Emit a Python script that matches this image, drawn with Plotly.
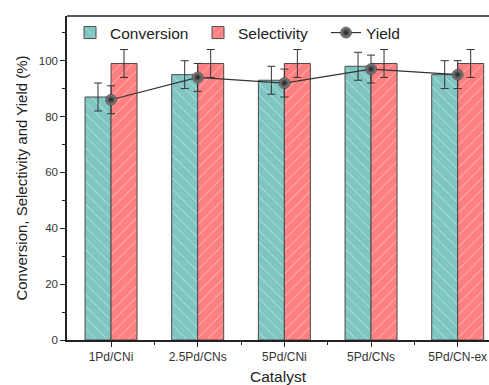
import plotly.graph_objects as go

categories = ["1Pd/CNi", "2.5Pd/CNs", "5Pd/CNi", "5Pd/CNs", "5Pd/CN-ex"]
conversion = [87, 95, 93, 98, 95]
conversion_err = [5, 5, 5, 5, 5]
selectivity = [99, 99, 99, 99, 99]
selectivity_err = [5, 5, 5, 5, 5]
yield_vals = [86, 94, 92, 97, 95]
yield_err = [5, 5, 5, 5, 5]

xpos = list(range(len(categories)))
FONT = "Liberation Sans, Arial, sans-serif"

fig = go.Figure()
fig.add_trace(go.Bar(
    x=xpos, y=conversion, name="Conversion",
    marker=dict(color="#7fc5c1", line=dict(color="#4a4a4a", width=1),
                pattern=dict(shape="\\", fgcolor="white", fgopacity=0.6, size=8, solidity=0.1)),
    error_y=dict(type="data", array=conversion_err, color="#333333", thickness=1, width=4),
))
fig.add_trace(go.Bar(
    x=xpos, y=selectivity, name="Selectivity",
    marker=dict(color="#ff8080", line=dict(color="#4a4a4a", width=1),
                pattern=dict(shape="/", fgcolor="white", fgopacity=0.6, size=8, solidity=0.1)),
    error_y=dict(type="data", array=selectivity_err, color="#333333", thickness=1, width=4),
))
fig.add_trace(go.Scatter(
    x=xpos, y=yield_vals, name="Yield", mode="lines+markers",
    line=dict(color="#333333", width=1.2),
    marker=dict(size=11, color="#8a8a8a", gradient=dict(type="radial", color="#1e1e1e"),
                line=dict(color="#222222", width=0.5)),
    error_y=dict(type="data", array=yield_err, color="#333333", thickness=1, width=4),
))

fig.update_layout(
    width=489, height=385,
    margin=dict(l=67, r=0, t=16, b=45),
    paper_bgcolor="white", plot_bgcolor="white",
    barmode="group", bargap=0.4, bargroupgap=0,
    font=dict(family=FONT, color="#222222"),
    showlegend=True,
    legend=dict(orientation="h", x=0.0, y=1.0, xanchor="left", yanchor="top",
                indentation=3, entrywidth=80, entrywidthmode="pixels",
                bgcolor="rgba(0,0,0,0)", font=dict(size=15.5, family=FONT, color="#222222")),
)
fig.update_xaxes(
    range=[-0.508, 4.361], tickvals=xpos, ticktext=categories,
    showline=True, linecolor="#222222", linewidth=1.5, mirror=False,
    ticks="outside", ticklen=5, tickcolor="#222222", tickwidth=1.2,
    minor=dict(tickvals=[0.5, 1.5, 2.5, 3.5], ticks="outside", ticklen=3, tickcolor="#222222"),
    tickfont=dict(size=12, color="#333333"),
    showgrid=False, zeroline=False, automargin=False,
    title=dict(text="Catalyst", font=dict(size=15.5, color="#222222"), standoff=14),
)
fig.update_yaxes(
    range=[0, 116], tickvals=[0, 20, 40, 60, 80, 100],
    showline=True, linecolor="#222222", linewidth=1.5,
    ticks="outside", ticklen=5, tickcolor="#222222", tickwidth=1.2,
    minor=dict(tickvals=[10, 30, 50, 70, 90, 110], ticks="outside", ticklen=3, tickcolor="#222222"),
    tickfont=dict(size=11.5, color="#333333"),
    showgrid=False, zeroline=False, automargin=False,
    title=dict(text="Conversion, Selectivity and Yield (%)", font=dict(size=15, color="#222222"), standoff=8),
)
# top border line
fig.add_shape(type="line", xref="paper", yref="paper", x0=0, x1=1, y0=1, y1=1,
              line=dict(color="#222222", width=1.5))

fig.write_html("out.html")
